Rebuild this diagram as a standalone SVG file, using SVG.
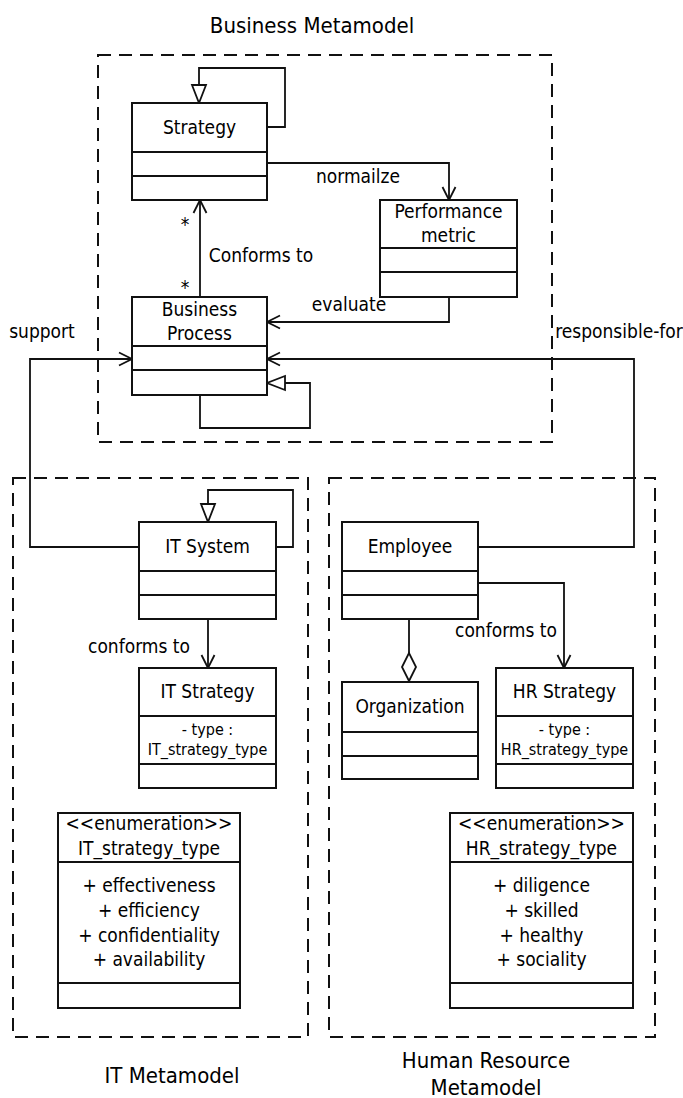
<svg xmlns="http://www.w3.org/2000/svg" width="683" height="1098" viewBox="0 0 683 1098">
<style>
text{font-family:"DejaVu Sans Condensed","DejaVu Sans",sans-serif;font-stretch:condensed;fill:#000;}
.t{font-size:19px;text-anchor:middle;}
.a{font-size:16px;text-anchor:middle;}
.ti{font-size:22px;text-anchor:middle;}
.box{fill:#fff;stroke:#111;stroke-width:2;}
.div{stroke:#111;stroke-width:2;}
.pkg{fill:none;stroke:#111;stroke-width:2;stroke-dasharray:13 8;}
.c{fill:none;stroke:#111;stroke-width:1.8;}
</style>
<defs>
<marker id="arr" markerUnits="userSpaceOnUse" viewBox="-15 -8 17 16" refX="0" refY="0" markerWidth="17" markerHeight="16" orient="auto" overflow="visible">
<path d="M-13,-6.5 L0,0 L-13,6.5" fill="none" stroke="#111" stroke-width="1.8"/>
</marker>
<marker id="tri" markerUnits="userSpaceOnUse" viewBox="-19 -9 21 18" refX="0" refY="0" markerWidth="21" markerHeight="18" orient="auto" overflow="visible">
<path d="M-18,-7 L0,0 L-18,7 Z" fill="#fff" stroke="#111" stroke-width="1.8"/>
</marker>
<marker id="dia" markerUnits="userSpaceOnUse" viewBox="-30 -9 32 18" refX="0" refY="0" markerWidth="32" markerHeight="18" orient="auto" overflow="visible">
<path d="M0,0 L-14,-7 L-28,0 L-14,7 Z" fill="#fff" stroke="#111" stroke-width="1.8"/>
</marker>
</defs>

<g id="packages">
<rect class="pkg" x="98" y="55" width="454" height="387"/>
<rect class="pkg" x="13" y="478" width="295" height="559"/>
<rect class="pkg" x="329" y="478" width="326" height="559"/>
<text class="ti" x="312" y="33">Business Metamodel</text>
<text class="ti" x="172" y="1083">IT Metamodel</text>
<text class="ti" x="486" y="1068">Human Resource</text>
<text class="ti" x="486" y="1095">Metamodel</text>
</g>

<g id="connectors">
<path class="c" d="M267,127 H285 V68 H199 V103" marker-end="url(#tri)"/>
<path class="c" d="M267,163 H449 V200" marker-end="url(#arr)"/>
<path class="c" d="M200,297 V200" marker-end="url(#arr)"/>
<path class="c" d="M449,297 V322 H267" marker-end="url(#arr)"/>
<path class="c" d="M200,395 V428 H310 V383 H267" marker-end="url(#tri)"/>
<path class="c" d="M139,547 H30 V359 H132" marker-end="url(#arr)"/>
<path class="c" d="M478,547 H634 V359 H267" marker-end="url(#arr)"/>
<path class="c" d="M276,547 H293 V490 H208 V522" marker-end="url(#tri)"/>
<path class="c" d="M208,619 V668" marker-end="url(#arr)"/>
<path class="c" d="M478,583 H564 V668" marker-end="url(#arr)"/>
<path class="c" d="M409,619 V681" marker-end="url(#dia)"/>
<text class="t" x="358" y="183">normailze</text>
<text class="t" x="185" y="231">*</text>
<text class="t" x="185" y="294">*</text>
<text class="t" x="261" y="262">Conforms to</text>
<text class="t" x="349" y="311">evaluate</text>
<text class="t" x="42" y="338">support</text>
<text class="t" x="619" y="338">responsible-for</text>
<text class="t" x="139" y="653">conforms to</text>
<text class="t" x="506" y="637">conforms to</text>
</g>

<g id="strategy">
<rect class="box" x="132" y="103" width="135" height="97"/>
<line class="div" x1="132" y1="152" x2="267" y2="152"/>
<line class="div" x1="132" y1="176" x2="267" y2="176"/>
<text class="t" x="199.5" y="134">Strategy</text>
</g>

<g id="performance-metric">
<rect class="box" x="380" y="200" width="137" height="97"/>
<line class="div" x1="380" y1="248" x2="517" y2="248"/>
<line class="div" x1="380" y1="272" x2="517" y2="272"/>
<text class="t" x="448.5" y="218">Performance</text>
<text class="t" x="448.5" y="242">metric</text>
</g>

<g id="business-process">
<rect class="box" x="132" y="297" width="135" height="98"/>
<line class="div" x1="132" y1="346" x2="267" y2="346"/>
<line class="div" x1="132" y1="370" x2="267" y2="370"/>
<text class="t" x="199.5" y="316">Business</text>
<text class="t" x="199.5" y="340">Process</text>
</g>

<g id="it-system">
<rect class="box" x="139" y="522" width="137" height="97"/>
<line class="div" x1="139" y1="571" x2="276" y2="571"/>
<line class="div" x1="139" y1="595" x2="276" y2="595"/>
<text class="t" x="207.5" y="553">IT System</text>
</g>

<g id="it-strategy">
<rect class="box" x="139" y="668" width="137" height="120"/>
<line class="div" x1="139" y1="716" x2="276" y2="716"/>
<line class="div" x1="139" y1="764" x2="276" y2="764"/>
<text class="t" x="207.5" y="698">IT Strategy</text>
<text class="a" x="207.5" y="735">- type :</text>
<text class="a" x="207.5" y="755">IT_strategy_type</text>
</g>

<g id="it-strategy-type">
<rect class="box" x="58" y="813" width="182" height="195"/>
<line class="div" x1="58" y1="862" x2="240" y2="862"/>
<line class="div" x1="58" y1="983" x2="240" y2="983"/>
<text class="t" x="149" y="830">&lt;&lt;enumeration&gt;&gt;</text>
<text class="t" x="149" y="855">IT_strategy_type</text>
<text class="t" x="149" y="892">+ effectiveness</text>
<text class="t" x="149" y="917">+ efficiency</text>
<text class="t" x="149" y="942">+ confidentiality</text>
<text class="t" x="149" y="966">+ availability</text>
</g>

<g id="employee">
<rect class="box" x="342" y="522" width="136" height="97"/>
<line class="div" x1="342" y1="571" x2="478" y2="571"/>
<line class="div" x1="342" y1="595" x2="478" y2="595"/>
<text class="t" x="410" y="553">Employee</text>
</g>

<g id="organization">
<rect class="box" x="342" y="682" width="136" height="97"/>
<line class="div" x1="342" y1="732" x2="478" y2="732"/>
<line class="div" x1="342" y1="756" x2="478" y2="756"/>
<text class="t" x="410" y="713">Organization</text>
</g>

<g id="hr-strategy">
<rect class="box" x="496" y="668" width="137" height="120"/>
<line class="div" x1="496" y1="716" x2="633" y2="716"/>
<line class="div" x1="496" y1="764" x2="633" y2="764"/>
<text class="t" x="564.5" y="698">HR Strategy</text>
<text class="a" x="564.5" y="735">- type :</text>
<text class="a" x="564.5" y="755">HR_strategy_type</text>
</g>

<g id="hr-strategy-type">
<rect class="box" x="450" y="813" width="183" height="195"/>
<line class="div" x1="450" y1="862" x2="633" y2="862"/>
<line class="div" x1="450" y1="983" x2="633" y2="983"/>
<text class="t" x="541.5" y="830">&lt;&lt;enumeration&gt;&gt;</text>
<text class="t" x="541.5" y="855">HR_strategy_type</text>
<text class="t" x="541.5" y="892">+ diligence</text>
<text class="t" x="541.5" y="917">+ skilled</text>
<text class="t" x="541.5" y="942">+ healthy</text>
<text class="t" x="541.5" y="966">+ sociality</text>
</g>
</svg>
